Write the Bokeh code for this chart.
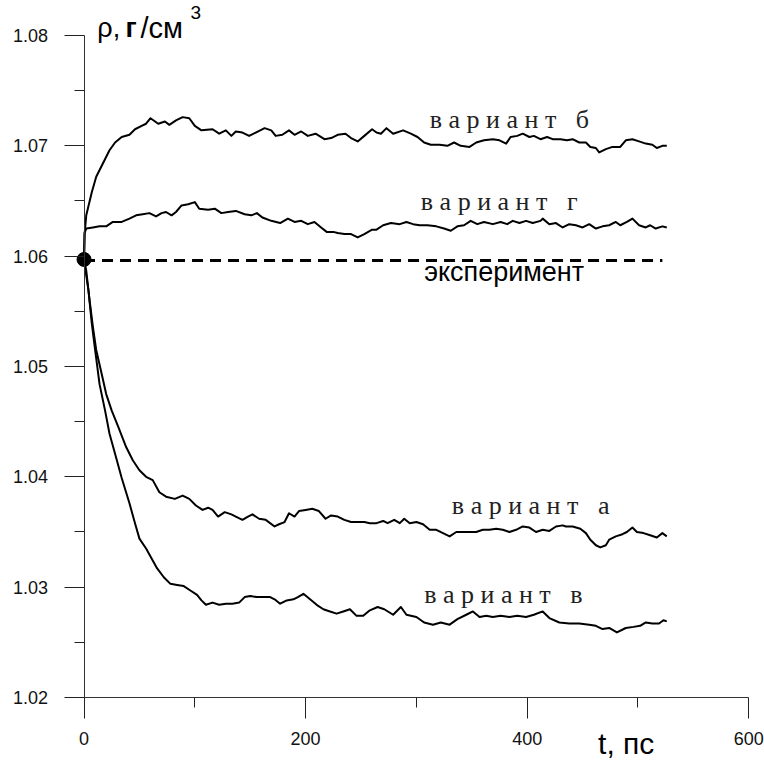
from bokeh.plotting import figure
from bokeh.models import Range1d, FixedTicker, NumeralTickFormatter, Label, LinearAxis
from bokeh.embed import file_html
from bokeh.resources import INLINE

# ---- data (time in ps, density in g/cm3) ----
t_b = [0, 0.5, 2, 7, 11, 17, 23, 28, 34, 41, 46, 52, 56, 60, 67, 73, 77, 83, 89, 95, 100, 106, 116, 122,
       128, 133, 137, 143, 149, 155, 163, 169, 173, 179, 185, 190, 196, 202, 209, 217, 223, 229, 236, 241,
       247, 253, 260, 264, 268, 273, 279, 288, 295, 301, 307, 313, 321, 328, 334, 340, 348, 354, 361, 369,
       375, 381, 385, 391, 396, 402, 406, 412, 418, 423, 430, 436, 441, 447, 453, 457, 462, 465, 471, 477,
       484, 489, 495, 501, 507, 513, 517, 522, 526]
rho_b = [1.0597, 1.0620, 1.0637, 1.0658, 1.0672, 1.0684, 1.0696, 1.0703, 1.0708, 1.0710, 1.0715, 1.0718,
         1.0720, 1.0725, 1.0720, 1.0722, 1.0719, 1.0723, 1.0726, 1.0725, 1.0718, 1.0714, 1.0715, 1.0711,
         1.0714, 1.0709, 1.0713, 1.0712, 1.0709, 1.0712, 1.0716, 1.0714, 1.0709, 1.0710, 1.0714, 1.0710,
         1.0713, 1.0709, 1.0711, 1.0706, 1.0707, 1.0710, 1.0711, 1.0707, 1.0704, 1.0709, 1.0715, 1.0712,
         1.0711, 1.0716, 1.0711, 1.0714, 1.0711, 1.0708, 1.0703, 1.0701, 1.0701, 1.0700, 1.0703, 1.0700,
         1.0699, 1.0703, 1.0705, 1.0706, 1.0705, 1.0702, 1.0708, 1.0709, 1.0711, 1.0708, 1.0709, 1.0706,
         1.0708, 1.0706, 1.0706, 1.0705, 1.0706, 1.0703, 1.0703, 1.0699, 1.0698, 1.0694, 1.0697, 1.0699,
         1.0699, 1.0705, 1.0706, 1.0704, 1.0702, 1.0701, 1.0698, 1.0700, 1.0700]

t_g = [0, 0.5, 2, 8, 14, 20, 26, 34, 41, 47, 53, 59, 65, 70, 74, 79, 83, 88, 94, 100, 104, 112, 118, 124,
       130, 137, 145, 151, 156, 161, 169, 177, 184, 190, 196, 202, 208, 214, 219, 225, 229, 235, 241, 247,
       253, 260, 264, 270, 277, 285, 291, 297, 303, 310, 318, 325, 331, 337, 343, 349, 355, 361, 369, 376,
       382, 387, 393, 399, 405, 412, 414, 420, 426, 432, 438, 444, 450, 456, 462, 468, 474, 480, 484, 490,
       495, 501, 507, 511, 516, 522, 526]
rho_g = [1.0597, 1.0621, 1.0625, 1.0626, 1.0627, 1.0627, 1.0631, 1.0631, 1.0634, 1.0637, 1.0638, 1.0639,
         1.0636, 1.0639, 1.0640, 1.0637, 1.0640, 1.0646, 1.0647, 1.0649, 1.0643, 1.0642, 1.0643, 1.0639,
         1.0640, 1.0641, 1.0638, 1.0637, 1.0639, 1.0635, 1.0632, 1.0630, 1.0634, 1.0631, 1.0632, 1.0629,
         1.0631, 1.0626, 1.0622, 1.0622, 1.0621, 1.0620, 1.0620, 1.0617, 1.0620, 1.0624, 1.0624, 1.0628,
         1.0630, 1.0629, 1.0631, 1.0629, 1.0628, 1.0628, 1.0627, 1.0625, 1.0623, 1.0627, 1.0628, 1.0632,
         1.0629, 1.0631, 1.0629, 1.0631, 1.0629, 1.0632, 1.0630, 1.0632, 1.0630, 1.0632, 1.0634, 1.0629,
         1.0630, 1.0626, 1.0629, 1.0628, 1.0626, 1.0629, 1.0625, 1.0627, 1.0628, 1.0631, 1.0628, 1.0631,
         1.0634, 1.0628, 1.0626, 1.0628, 1.0625, 1.0627, 1.0626]

t_a = [0, 2, 5, 8, 11, 16, 20, 25, 31, 38, 44, 50, 56, 62, 68, 74, 82, 89, 95, 101, 107, 112, 116, 121,
       127, 133, 137, 143, 148, 152, 158, 164, 172, 176, 181, 185, 190, 194, 200, 206, 212, 218, 223, 229,
       235, 241, 247, 253, 258, 264, 270, 274, 280, 285, 289, 294, 300, 306, 312, 318, 324, 330, 336, 342,
       348, 354, 360, 366, 372, 378, 384, 390, 396, 402, 408, 414, 420, 426, 432, 435, 441, 448, 453, 457,
       462, 466, 471, 474, 480, 486, 490, 495, 499, 505, 511, 517, 522, 526]
rho_a = [1.0596, 1.0587, 1.0560, 1.0536, 1.0515, 1.0493, 1.0475, 1.0460, 1.0445, 1.0427, 1.0415, 1.0406,
         1.0400, 1.0397, 1.0386, 1.0382, 1.0380, 1.0383, 1.0380, 1.0374, 1.0370, 1.0372, 1.0370, 1.0364,
         1.0368, 1.0366, 1.0364, 1.0361, 1.0364, 1.0366, 1.0362, 1.0361, 1.0355, 1.0357, 1.0359, 1.0367,
         1.0364, 1.0369, 1.0370, 1.0371, 1.0369, 1.0362, 1.0365, 1.0364, 1.0361, 1.0359, 1.0359, 1.0359,
         1.0358, 1.0358, 1.0360, 1.0358, 1.0361, 1.0358, 1.0362, 1.0358, 1.0359, 1.0357, 1.0352, 1.0352,
         1.0349, 1.0346, 1.0350, 1.0350, 1.0350, 1.0350, 1.0352, 1.0352, 1.0353, 1.0352, 1.0350, 1.0352,
         1.0355, 1.0354, 1.0350, 1.0352, 1.0351, 1.0355, 1.0356, 1.0355, 1.0355, 1.0353, 1.0349, 1.0343,
         1.0338, 1.0336, 1.0338, 1.0343, 1.0346, 1.0348, 1.0350, 1.0354, 1.0350, 1.0349, 1.0347, 1.0345,
         1.0349, 1.0346]

t_v = [0, 4, 7, 10, 14, 19, 23, 28, 34, 41, 46, 50, 56, 61, 66, 72, 78, 84, 90, 96, 102, 106, 110, 116,
       122, 128, 134, 140, 145, 150, 156, 162, 168, 172, 177, 183, 189, 193, 198, 204, 210, 216, 222, 228,
       234, 240, 246, 252, 258, 265, 271, 279, 286, 291, 300, 307, 315, 322, 330, 337, 345, 351, 357, 363,
       369, 376, 384, 391, 399, 406, 414, 420, 429, 438, 447, 456, 462, 468, 474, 481, 489, 496, 502, 507,
       513, 519, 523, 526]
rho_v = [1.0596, 1.0569, 1.0539, 1.0515, 1.0484, 1.0460, 1.0439, 1.0421, 1.0399, 1.0376, 1.0358, 1.0344,
         1.0335, 1.0326, 1.0317, 1.0309, 1.0303, 1.0302, 1.0301, 1.0297, 1.0293, 1.0288, 1.0284, 1.0286,
         1.0284, 1.0285, 1.0285, 1.0286, 1.0291, 1.0292, 1.0291, 1.0291, 1.0291, 1.0289, 1.0285, 1.0288,
         1.0289, 1.0291, 1.0294, 1.0289, 1.0284, 1.0280, 1.0278, 1.0276, 1.0278, 1.0280, 1.0274, 1.0274,
         1.0279, 1.0282, 1.0280, 1.0275, 1.0282, 1.0275, 1.0273, 1.0268, 1.0266, 1.0268, 1.0266, 1.0271,
         1.0275, 1.0278, 1.0273, 1.0274, 1.0273, 1.0274, 1.0273, 1.0274, 1.0273, 1.0275, 1.0278, 1.0272,
         1.0268, 1.0267, 1.0267, 1.0266, 1.0265, 1.0262, 1.0263, 1.0259, 1.0263, 1.0264, 1.0265, 1.0268,
         1.0267, 1.0267, 1.0270, 1.0269]

t_exp = [0, 522]
rho_exp = [1.0596, 1.0596]
start_t = [0]
start_rho = [1.0597]

x_ticks = [0, 200, 400, 600]
x_minor = [100, 300, 500]
y_ticks = [1.02, 1.03, 1.04, 1.05, 1.06, 1.07, 1.08]
y_minor = [1.025, 1.035, 1.045, 1.055, 1.065, 1.075]

NB = "\u00a0"
# labels: (text, t, rho)
series_labels = [("в а р и а н т" + NB * 3 + "б", 312, 1.07234),
                 ("в а р и а н т" + NB * 3 + "г", 304, 1.06491),
                 ("в а р и а н т" + NB * 3 + "а", 332, 1.03744),
                 ("в а р и а н т" + NB * 3 + "в", 307, 1.02929)]

W, H = 764, 760
# the frame fills the whole canvas; axes sit at fixed positions inside it
p = figure(width=W, height=H, output_backend="svg", toolbar_location=None,
           x_axis_location=None, y_axis_location=None,
           x_range=Range1d(-75.4, 614.2), y_range=Range1d(1.01429, 1.08317),
           min_border=0, min_border_left=0, min_border_right=0,
           min_border_top=0, min_border_bottom=0)
p.outline_line_color = None
p.grid.visible = False
p.background_fill_color = "white"

xaxis = LinearAxis(fixed_location=1.02, bounds=(0, 600),
                   ticker=FixedTicker(ticks=x_ticks, minor_ticks=x_minor))
yaxis = LinearAxis(fixed_location=0, bounds=(1.02, 1.08),
                   ticker=FixedTicker(ticks=y_ticks, minor_ticks=y_minor),
                   formatter=NumeralTickFormatter(format="0.00"))
for ax in (xaxis, yaxis):
    ax.axis_line_color = "#333333"
    ax.axis_line_width = 1
    ax.major_tick_line_color = "#222222"
    ax.minor_tick_line_color = "#222222"
    ax.major_tick_in = 0
    ax.minor_tick_in = 0
    ax.major_label_text_font = "Liberation Sans"
    ax.major_label_text_color = "#111111"

xaxis.major_tick_out = 21
xaxis.minor_tick_out = 10
xaxis.major_label_text_font_size = "18px"
xaxis.major_label_standoff = 14

yaxis.major_tick_out = 20
yaxis.minor_tick_out = 10
yaxis.major_label_text_font_size = "18px"
yaxis.major_label_standoff = 16

p.add_layout(xaxis, "below")
p.add_layout(yaxis, "left")

for tt, rr in ((t_b, rho_b), (t_g, rho_g), (t_a, rho_a), (t_v, rho_v)):
    p.line(tt, rr, line_color="black", line_width=2, line_join="round")

p.line(t_exp, rho_exp, line_color="black", line_width=3, line_dash="11 7")
p.scatter(start_t, start_rho, size=14, color="black")

for txt, tx, ty in series_labels:
    p.add_layout(Label(x=tx, y=ty, text=txt, text_font="Liberation Serif",
                       text_font_size="26px", text_color="#222222", text_baseline="alphabetic"))

p.add_layout(Label(x=307, y=1.05856, text="эксперимент", text_font="Liberation Sans",
                   text_font_size="27px", text_color="black", text_baseline="alphabetic"))

# axis titles
p.add_layout(Label(x=12, y=1.08068, text="ρ,", text_font="Liberation Sans",
                   text_font_size="27px", text_color="black", text_baseline="alphabetic"))
p.add_layout(Label(x=37.5, y=1.08068, text="г", text_font="Liberation Sans", text_font_style="bold",
                   text_font_size="27px", text_color="black", text_baseline="alphabetic"))
p.add_layout(Label(x=51, y=1.08068, text="/см", text_font="Liberation Sans",
                   text_font_size="29px", text_color="black", text_baseline="alphabetic"))
p.add_layout(Label(x=96, y=1.08210, text="3", text_font="Liberation Sans",
                   text_font_size="19px", text_color="black", text_baseline="alphabetic"))
p.add_layout(Label(x=464, y=1.01580, text="t, пс", text_font="Liberation Sans",
                   text_font_size="30px", text_color="black", text_baseline="alphabetic"))

open("out.html", "w").write(file_html(p, INLINE))
